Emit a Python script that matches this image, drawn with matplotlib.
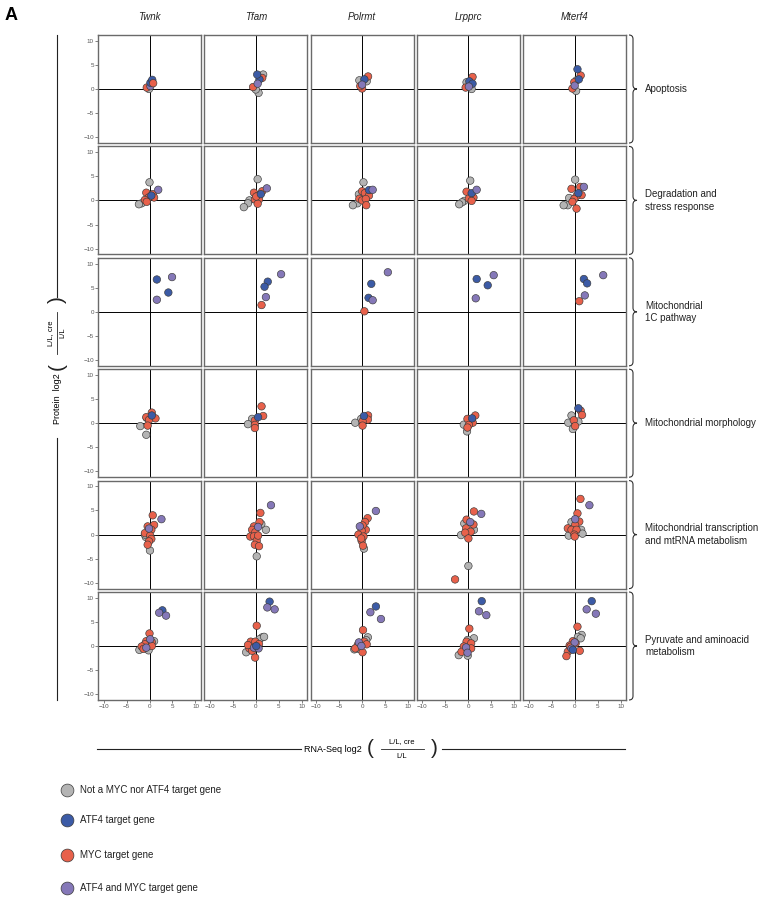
import numpy as np
import matplotlib
matplotlib.use('Agg')
import matplotlib.pyplot as plt
from matplotlib.path import Path
from matplotlib.patches import PathPatch

plt.rcParams['font.family'] = ['Liberation Sans', 'DejaVu Sans']

W, H = 769, 910

genes = ['Twnk', 'Tfam', 'Polrmt', 'Lrpprc', 'Mterf4']
pathways = ['Apoptosis', 'Degradation and\nstress response', 'Mitochondrial\n1C pathway',
            'Mitochondrial morphology', 'Mitochondrial transcription\nand mtRNA metabolism',
            'Pyruvate and aminoacid\nmetabolism']

# N = not a target, A = ATF4 target, M = MYC target, B = ATF4 and MYC target
categories = ['N', 'A', 'M', 'B']
cat_labels = ['Not a MYC nor ATF4 target gene', 'ATF4 target gene',
              'MYC target gene', 'ATF4 and MYC target gene']
cat_colors = {'N': '#b4b4b4', 'A': '#3c5ba6', 'M': '#e8614b', 'B': '#8578b8'}

# (RNA-Seq log2 FC, Protein log2 FC, category)
apoptosis = {
    'Twnk': [(-0.1, 0.0, 'N'), (-0.6, 0.3, 'M'), (0.2, 0.6, 'B'), (0.2, 1.3, 'A'),
             (0.6, 1.9, 'A'), (0.8, 1.2, 'M')],
    'Tfam': [(0.6, -0.8, 'N'), (0.0, -0.1, 'N'), (-0.6, 0.4, 'M'), (1.6, 3.0, 'N'),
             (1.4, 2.3, 'M'), (0.8, 2.0, 'A'), (0.3, 3.0, 'A'), (0.4, 1.1, 'B')],
    'Polrmt': [(-0.6, 1.8, 'N'), (1.0, 1.6, 'N'), (0.0, 0.1, 'M'), (-0.4, 0.6, 'M'),
               (1.3, 2.6, 'M'), (0.5, 2.0, 'A'), (0.0, 0.9, 'B')],
    'Lrpprc': [(0.7, 0.0, 'N'), (-0.4, 1.4, 'N'), (-0.6, 0.3, 'M'), (0.9, 2.5, 'M'),
               (0.2, 1.6, 'A'), (0.9, 1.1, 'A'), (0.1, 0.5, 'B')],
    'Mterf4': [(0.3, -0.4, 'N'), (0.4, 1.8, 'N'), (-0.5, 0.1, 'M'), (-0.1, 1.4, 'M'),
               (1.3, 2.8, 'M'), (0.6, 4.1, 'A'), (0.9, 2.0, 'A'), (0.0, 0.7, 'B')],
}

degradation = {
    'Twnk': [(0.0, 3.75, 'N'), (-1.7, -0.6, 'N'), (-2.3, -0.8, 'N'), (-0.7, 1.6, 'M'),
             (0.7, 1.3, 'M'), (1.0, 0.6, 'M'), (-0.2, 0.6, 'M'), (-1.0, 0.1, 'M'),
             (-0.6, -0.3, 'M'), (0.4, 1.0, 'A'), (1.9, 2.2, 'B')],
    'Tfam': [(0.4, 4.4, 'N'), (-1.4, 0.0, 'N'), (-1.7, -0.6, 'N'), (-2.6, -1.4, 'N'),
             (-0.4, 1.6, 'M'), (1.4, 1.9, 'M'), (0.5, 1.0, 'M'), (-0.2, 0.2, 'M'),
             (0.7, 0.2, 'M'), (0.4, -0.7, 'M'), (0.1, 0.8, 'M'), (1.1, 1.3, 'A'),
             (2.4, 2.5, 'B')],
    'Polrmt': [(0.3, 3.75, 'N'), (-0.7, 1.25, 'N'), (-1.0, -0.6, 'N'), (-2.0, -1.0, 'N'),
               (0.0, 1.9, 'M'), (0.6, 1.5, 'M'), (1.5, 1.0, 'M'), (-0.6, 0.35, 'M'),
               (0.0, 0.0, 'M'), (0.8, 0.3, 'M'), (0.9, -1.0, 'M'), (1.5, 2.15, 'A'),
               (2.3, 2.2, 'B')],
    'Lrpprc': [(0.4, 4.1, 'N'), (-0.9, -0.1, 'N'), (-1.4, -0.4, 'N'), (-2.0, -0.8, 'N'),
               (-0.4, 1.8, 'M'), (1.1, 0.6, 'M'), (0.1, 0.4, 'M'), (0.7, -0.1, 'M'),
               (0.7, 1.5, 'A'), (1.8, 2.2, 'B')],
    'Mterf4': [(0.1, 4.3, 'N'), (-1.2, 0.5, 'N'), (-1.5, -1.0, 'N'), (-2.4, -1.0, 'N'),
               (1.2, 2.8, 'M'), (-0.7, 2.4, 'M'), (1.5, 1.1, 'M'), (0.4, 0.9, 'M'),
               (-0.1, 0.3, 'M'), (-0.5, -0.3, 'M'), (0.4, -1.7, 'M'), (0.8, 1.5, 'A'),
               (2.0, 2.8, 'B')],
}

one_carbon = {
    'Twnk': [(1.6, 6.7, 'A'), (4.9, 7.2, 'B'), (4.1, 4.0, 'A'), (1.6, 2.5, 'B')],
    'Tfam': [(5.5, 7.8, 'B'), (2.6, 6.25, 'A'), (1.9, 5.2, 'A'), (2.2, 3.05, 'B'),
             (1.25, 1.4, 'M')],
    'Polrmt': [(5.6, 8.2, 'B'), (2.0, 5.8, 'A'), (1.4, 2.9, 'A'), (2.3, 2.4, 'B'),
               (0.5, 0.1, 'M')],
    'Lrpprc': [(1.8, 6.8, 'A'), (5.5, 7.6, 'B'), (4.2, 5.5, 'A'), (1.6, 2.8, 'B')],
    'Mterf4': [(6.2, 7.6, 'B'), (2.0, 6.8, 'A'), (2.7, 5.9, 'A'), (2.2, 3.4, 'B'),
               (1.0, 2.2, 'M')],
}

morphology = {
    'Twnk': [(-2.0, -0.6, 'N'), (-0.7, -2.4, 'N'), (-0.6, 1.1, 'N'), (0.5, 2.2, 'M'),
             (1.3, 1.0, 'M'), (-0.7, 1.25, 'M'), (-0.1, 0.7, 'M'), (-0.4, -0.5, 'M'),
             (0.5, 1.6, 'A')],
    'Tfam': [(-0.8, 0.9, 'N'), (-1.7, -0.2, 'N'), (1.25, 3.5, 'M'), (1.6, 1.5, 'M'),
             (-0.2, 0.55, 'M'), (-0.2, -0.35, 'M'), (-0.2, -1.0, 'M'), (0.5, 1.25, 'A')],
    'Polrmt': [(-0.2, 0.9, 'N'), (-1.5, 0.1, 'N'), (1.3, 1.6, 'M'), (1.25, 0.75, 'M'),
               (0.1, 0.4, 'M'), (0.1, -0.5, 'M'), (0.4, 1.5, 'A')],
    'Lrpprc': [(-1.0, -0.3, 'N'), (-0.3, -1.7, 'N'), (1.5, 1.6, 'M'), (-0.2, 0.9, 'M'),
               (0.95, 0.1, 'M'), (0.1, -0.35, 'M'), (-0.2, -0.9, 'M'), (0.8, 1.0, 'A')],
    'Mterf4': [(-0.7, 1.6, 'N'), (0.8, 0.35, 'N'), (-1.4, 0.1, 'N'), (-0.4, -1.2, 'N'),
               (1.3, 2.6, 'M'), (1.6, 1.7, 'M'), (-0.2, 0.6, 'M'), (0.1, -0.6, 'M'),
               (0.8, 3.1, 'A')],
}

transcription = {
    'Twnk': [(-0.8, -0.5, 'N'), (0.1, -3.3, 'N'), (-1.0, 0.0, 'N'), (0.7, 4.0, 'M'),
             (1.0, 2.0, 'M'), (-0.4, 1.7, 'M'), (0.4, 1.0, 'M'), (-1.0, 0.3, 'M'),
             (0.15, -0.2, 'M'), (0.4, -0.9, 'M'), (-0.1, -1.4, 'M'), (-0.4, -2.1, 'M'),
             (2.6, 3.2, 'B'), (-0.1, 1.25, 'B')],
    'Tfam': [(2.2, 1.0, 'N'), (1.2, 2.2, 'N'), (0.2, -4.5, 'N'), (1.0, 4.5, 'M'),
             (0.8, 2.6, 'M'), (-0.4, 1.7, 'M'), (-0.8, 1.0, 'M'), (-0.1, 0.5, 'M'),
             (-1.2, -0.4, 'M'), (-0.4, -0.35, 'M'), (0.2, -1.25, 'M'), (-0.2, -2.1, 'M'),
             (0.7, -2.4, 'M'), (0.5, -0.2, 'M'), (3.3, 6.1, 'B'), (0.5, 1.6, 'B')],
    'Polrmt': [(0.4, -2.9, 'N'), (1.2, 3.4, 'M'), (0.65, 2.6, 'M'), (0.8, 1.0, 'M'),
               (0.1, 1.9, 'M'), (-0.1, 0.8, 'M'), (-0.8, 0.0, 'M'), (0.3, -0.4, 'M'),
               (-0.1, -1.3, 'M'), (0.2, -2.3, 'M'), (-0.2, -0.8, 'M'), (3.0, 4.9, 'B'),
               (-0.5, 1.7, 'B')],
    'Lrpprc': [(-0.9, 2.3, 'N'), (1.2, 1.0, 'N'), (-1.6, -0.1, 'N'), (0.0, -6.5, 'N'),
               (1.2, 4.8, 'M'), (-0.4, 3.1, 'M'), (1.1, 2.1, 'M'), (-0.5, 1.3, 'M'),
               (0.5, 0.6, 'M'), (-0.7, 0.4, 'M'), (0.0, -0.8, 'M'), (-2.9, -9.3, 'M'),
               (2.8, 4.3, 'B'), (0.4, 2.6, 'B')],
    'Mterf4': [(-0.7, 2.6, 'N'), (1.4, 1.0, 'N'), (1.7, 0.2, 'N'), (-1.3, -0.2, 'N'),
               (1.25, 7.4, 'M'), (0.6, 4.4, 'M'), (1.0, 2.7, 'M'), (0.1, 2.0, 'M'),
               (-1.5, 1.3, 'M'), (-0.7, 1.0, 'M'), (0.4, 1.0, 'M'), (-0.1, 0.0, 'M'),
               (0.0, -0.4, 'M'), (3.2, 6.1, 'B'), (0.1, 3.2, 'B')],
}

pyruvate = {
    'Twnk': [(1.0, 1.0, 'N'), (-0.1, 0.35, 'N'), (-2.2, -0.8, 'N'), (-0.2, -0.9, 'N'),
             (0.0, 2.6, 'M'), (-0.7, 1.0, 'M'), (0.5, 0.8, 'M'), (-1.0, 0.35, 'M'),
             (-1.7, -0.1, 'M'), (0.5, 0.0, 'M'), (-1.3, -0.6, 'M'), (2.8, 7.4, 'A'),
             (2.1, 6.9, 'B'), (3.6, 6.3, 'B'), (0.15, 1.4, 'B'), (-0.7, -0.35, 'B')],
    'Tfam': [(1.4, 1.8, 'N'), (0.8, 1.4, 'N'), (-2.1, -1.3, 'N'), (1.8, 1.9, 'N'),
             (0.2, 4.2, 'M'), (-1.1, 0.9, 'M'), (-0.1, 0.9, 'M'), (0.7, 0.4, 'M'),
             (-1.4, -0.5, 'M'), (-0.8, -1.0, 'M'), (-0.15, -2.4, 'M'), (-1.7, 0.2, 'M'),
             (3.0, 9.2, 'A'), (2.5, 8.0, 'B'), (4.1, 7.6, 'B'), (-0.4, -0.35, 'B'),
             (0.6, -0.5, 'B'), (0.1, 0.0, 'A')],
    'Polrmt': [(1.25, 1.8, 'N'), (-0.7, -0.6, 'N'), (-1.7, -0.7, 'N'), (0.9, 1.2, 'N'),
               (0.2, 3.3, 'M'), (-0.95, 0.2, 'M'), (0.45, 0.9, 'M'), (1.0, 0.35, 'M'),
               (-1.5, -0.5, 'M'), (0.1, -1.3, 'M'), (3.0, 8.2, 'A'), (1.8, 7.0, 'B'),
               (4.1, 5.6, 'B'), (-0.7, 0.75, 'B'), (-0.15, 0.0, 'B')],
    'Lrpprc': [(1.2, 1.6, 'N'), (-0.15, 1.25, 'N'), (-2.1, -1.9, 'N'), (-0.15, -2.0, 'N'),
               (0.2, 3.6, 'M'), (-0.4, 0.9, 'M'), (0.6, 0.55, 'M'), (-1.0, -0.1, 'M'),
               (0.6, -0.5, 'M'), (-1.5, -1.2, 'M'), (2.9, 9.3, 'A'), (2.3, 7.2, 'B'),
               (3.9, 6.4, 'B'), (-0.5, -0.3, 'B'), (-0.2, -1.4, 'B')],
    'Mterf4': [(1.5, 2.3, 'N'), (0.7, 1.9, 'N'), (1.3, 1.6, 'N'), (0.6, 4.0, 'M'),
               (-0.4, 1.0, 'M'), (0.2, 0.55, 'M'), (-1.1, 0.1, 'M'), (1.1, -1.0, 'M'),
               (-1.5, -1.2, 'M'), (-1.8, -2.1, 'M'), (-0.9, -0.15, 'M'), (3.7, 9.3, 'A'),
               (2.6, 7.6, 'B'), (4.6, 6.7, 'B'), (0.0, 0.75, 'B'), (-0.7, -0.55, 'B'),
               (-0.4, -0.8, 'A')],
}

rows = [apoptosis, degradation, one_carbon, morphology, transcription, pyruvate]

# layout in pixels (origin top-left)
col_left = [98 + i * 106.3 for i in range(5)]
row_top = [35 + j * 111.4 for j in range(6)]
pw, ph = 103, 108
lim = 11.2

fig = plt.figure(figsize=(W / 100, H / 100), dpi=100)

# overlay axes in pixel coordinates for annotations
ov = fig.add_axes([0, 0, 1, 1])
ov.set_xlim(0, W)
ov.set_ylim(H, 0)
ov.axis('off')


def brace(ax, x, y0, y1, w=4.0):
    ym = (y0 + y1) / 2
    verts = [(x, y0), (x + w, y0), (x + w, y0 + w),
             (x + w, ym - w), (x + w, ym), (x + 2 * w, ym),
             (x + w, ym), (x + w, ym + w),
             (x + w, y1 - w), (x + w, y1), (x, y1)]
    codes = [Path.MOVETO, Path.CURVE3, Path.CURVE3,
             Path.LINETO, Path.CURVE3, Path.CURVE3,
             Path.CURVE3, Path.CURVE3,
             Path.LINETO, Path.CURVE3, Path.CURVE3]
    ax.add_patch(PathPatch(Path(verts, codes), fill=False, lw=0.8, ec='#333333'))


for j, row in enumerate(rows):
    for i, g in enumerate(genes):
        ax = fig.add_axes([col_left[i] / W, 1 - (row_top[j] + ph) / H, pw / W, ph / H])
        pts = row[g]
        xs = np.array([p[0] for p in pts])
        ys = np.array([p[1] for p in pts])
        cs = [cat_colors[p[2]] for p in pts]
        ax.axhline(0, color='black', lw=0.7, zorder=1)
        ax.axvline(0, color='black', lw=0.7, zorder=1)
        ax.scatter(xs, ys, s=29, c=cs, edgecolors='#3a3a3a', linewidths=0.45, zorder=3)
        ax.set_xlim(-lim, lim)
        ax.set_ylim(-lim, lim)
        ax.set_xticks([-10, -5, 0, 5, 10])
        ax.set_yticks([-10, -5, 0, 5, 10])
        ax.tick_params(length=2, width=0.5, color='#4d4d4d', labelsize=4.5,
                       labelcolor='#555555', pad=1)
        if i != 0:
            ax.tick_params(left=False, labelleft=False)
        if j != len(rows) - 1:
            ax.tick_params(bottom=False, labelbottom=False)
        for sp in ax.spines.values():
            sp.set_color('#6a6a6a')
            sp.set_linewidth(1.0)
        if j == 0:
            ov.text(col_left[i] + pw / 2, 17, g, style='italic', fontsize=7,
                    ha='center', va='center', color='#222222')
    brace(ov, 629, row_top[j], row_top[j] + ph)
    ov.text(645, row_top[j] + ph / 2, pathways[j], fontsize=7, ha='left', va='center',
            color='#222222', linespacing=1.3)

# panel letter
ov.text(5, 16, 'A', fontsize=13, fontweight='bold', ha='left', va='center')

# y axis label
yl_x = 57
ov.plot([yl_x, yl_x], [35, 297], color='#222222', lw=0.8)
ov.plot([yl_x, yl_x], [438, 700], color='#222222', lw=0.8)
ov.text(yl_x, 373, 'Protein  log2', rotation=90, fontsize=6.5, ha='center', va='top')
ov.text(yl_x, 366, '(', rotation=90, fontsize=15, ha='center', va='center', color='#222222')
ov.text(yl_x, 300, ')', rotation=90, fontsize=15, ha='center', va='center', color='#222222')
ov.plot([yl_x, yl_x], [312, 354], color='#222222', lw=0.6)
ov.text(yl_x - 6, 333, 'L/L, cre', rotation=90, fontsize=5.5, ha='center', va='center')
ov.text(yl_x + 6, 333, 'L/L', rotation=90, fontsize=5.5, ha='center', va='center')

# x axis label
xl_y = 749
ov.plot([97, 301], [xl_y, xl_y], color='#222222', lw=0.8)
ov.plot([442, 625], [xl_y, xl_y], color='#222222', lw=0.8)
ov.text(362, xl_y, 'RNA-Seq log2', fontsize=6.5, ha='right', va='center')
ov.text(370, xl_y, '(', fontsize=15, ha='center', va='center', color='#222222')
ov.text(434, xl_y, ')', fontsize=15, ha='center', va='center', color='#222222')
ov.plot([381, 424], [xl_y, xl_y], color='#222222', lw=0.6)
ov.text(402, xl_y - 7, 'L/L, cre', fontsize=5.5, ha='center', va='center')
ov.text(402, xl_y + 8, 'L/L', fontsize=5.5, ha='center', va='center')

# legend
leg_y = [790, 820, 855, 888]
for k, c in enumerate(categories):
    ov.scatter([67], [leg_y[k]], s=85, c=cat_colors[c], edgecolors='#3a3a3a',
               linewidths=0.5, clip_on=False)
    ov.text(80, leg_y[k], cat_labels[k], fontsize=7, ha='left', va='center',
            color='#222222')

fig.savefig('out.png', dpi=100)
